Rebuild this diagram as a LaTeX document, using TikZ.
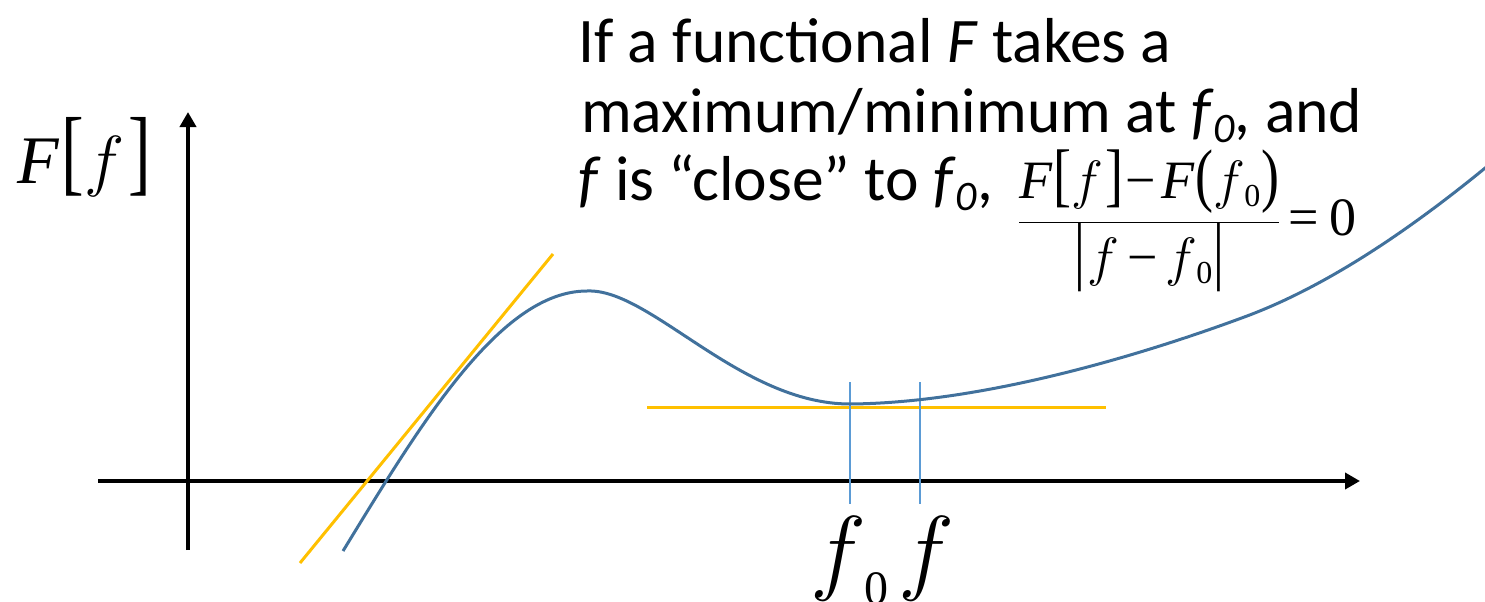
\RequirePackage{fix-cm}
\documentclass[tikz,border=0pt]{standalone}
\usepackage{fontspec}
\usepackage{graphicx}
\setmainfont{Carlito}
\newfontfamily\tnr{Liberation Serif}
\usetikzlibrary{arrows.meta}
\definecolor{curveblue}{HTML}{41719C}
\definecolor{markblue}{HTML}{5B9BD5}
\definecolor{tanyellow}{HTML}{FFC000}
\newcommand{\subzero}{\raisebox{-10pt}{\fontsize{42}{42}\selectfont\itshape 0}}
\newcommand{\tbr}[2]{\scalebox{1}[#1]{\upshape #2}}
\newcommand{\mff}{\ensuremath{f}}
\newcommand{\smallzero}{\raisebox{-8pt}{\fontsize{32}{32}\selectfont\upshape 0}}
\tikzset{
  axis/.style={line width=4pt, -{Triangle[length=15pt,width=16pt]}},
  curve/.style={curveblue, line width=3pt},
  tangent/.style={tanyellow, line width=3pt},
  marker/.style={markblue, line width=2.2pt},
  para/.style={inner sep=0pt, anchor=base west, font=\fontsize{63.5}{68}\selectfont},
  mathlbl/.style={inner sep=0pt, anchor=base west, font=\tnr\fontsize{95}{95}\selectfont}
}
\begin{document}
\begin{tikzpicture}[x=1pt,y=-1pt]
\useasboundingbox (0,0) rectangle (1485,602);
\clip (0,0) rectangle (1485,602);
% axes
\coordinate (xs) at (98,481);
\coordinate (xe) at (1360,481);
\coordinate (ys) at (188,550);
\coordinate (ye) at (188,112);
\draw[axis] (xs) -- (xe);
\draw[axis] (ys) -- (ye);
% tangent lines
\coordinate (t1a) at (300,563);
\coordinate (t1b) at (553,254);
\draw[tangent] (t1a) -- (t1b);
\coordinate (t2a) at (647,407);
\coordinate (t2b) at (1106,407);
\draw[tangent] (t2a) -- (t2b);
% markers
\coordinate (m1a) at (850,382);
\coordinate (m1b) at (850,504);
\coordinate (m2a) at (920,382);
\coordinate (m2b) at (920,504);
\draw[marker] (m1a) -- (m1b);
\draw[marker] (m2a) -- (m2b);
% curve
\coordinate (c0) at (343,551);
\coordinate (cmax) at (587,291);
\coordinate (cmin) at (850,404);
\coordinate (cmid) at (1247,316);
\coordinate (cend) at (1490,164);
\draw[curve] (c0) .. controls (420,425) and (500,291) .. (cmax)
  .. controls (650,288) and (740,404) .. (cmin)
  .. controls (980,403) and (1137,357) .. (cmid)
  .. controls (1327,286) and (1410,230) .. (cend);
% labels
\node[mathlbl] (lf0) at (810,582) {\mff\kern-2pt\raisebox{-22pt}{\fontsize{48}{48}\selectfont\upshape 0}};
\node[mathlbl] (lf) at (898,582) {\mff};
\node[inner sep=0pt, anchor=base west, font=\tnr\fontsize{68}{68}\selectfont] (ylab) at (17,183)
  {\itshape F\kern3pt\tbr{1.4}{[}\kern0pt\mff\kern4pt\tbr{1.4}{]}};
% text
\node[para] (l1) at (578,63) {If a functional \textit{F} takes a};
\node[para] (l2) at (581,132) {maximum/minimum at \textit{f}\subzero, and};
\node[para] (l3) at (578,200) {\textit{f} is “close” to \textit{f}\subzero,};
\node[inner sep=0pt, anchor=west, font=\tnr\fontsize{54}{54}\selectfont] (frac) at (1018,221)
  {$\displaystyle\frac{\hbox{\itshape F\kern1pt\tbr{1.3}{[}\kern0pt\mff\kern2pt\tbr{1.3}{]}\upshape{\kern2pt\textminus\kern6pt}\itshape F\kern1pt\tbr{1.3}{(}\kern0pt\mff\kern-1pt\smallzero\kern1pt\tbr{1.3}{)}}}{\hbox{\tbr{1.4}{|}\kern2pt\mff\kern8pt\upshape\textminus\kern8pt\mff\kern-1pt\smallzero\kern1pt\tbr{1.4}{|}}}\hbox{\upshape\kern8pt=\kern10pt 0}$};
\end{tikzpicture}
\end{document}
